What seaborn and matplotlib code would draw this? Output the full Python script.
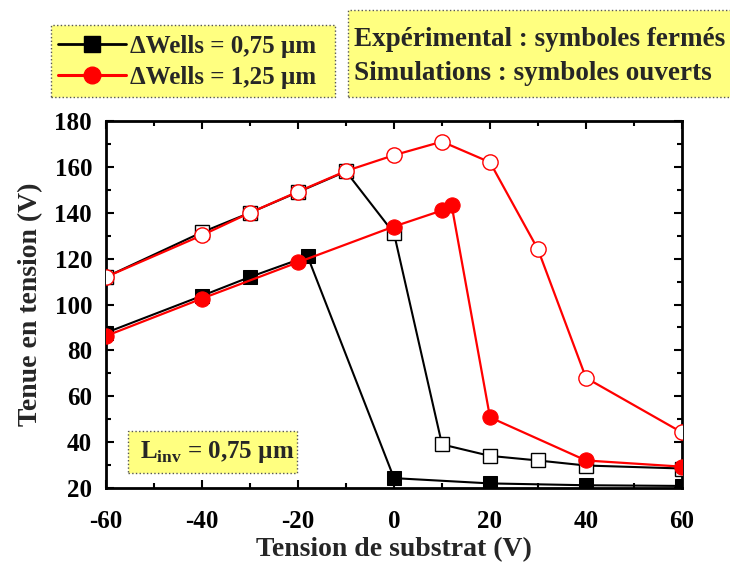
import numpy as np
import pandas as pd
import matplotlib
matplotlib.use("Agg")
import matplotlib.pyplot as plt
import seaborn as sns
from matplotlib.ticker import MultipleLocator
from matplotlib.lines import Line2D
from matplotlib.patches import Rectangle

# données
v_exp_075 = [-60, -40, -30, -18, 0, 20, 40, 60]
bv_exp_075 = [87.7, 103.8, 112, 121, 24.3, 22, 21.2, 20.9]

v_sim_075 = [-60, -40, -30, -20, -10, 0, 10, 20, 30, 40, 60]
bv_sim_075 = [112, 131.5, 140, 149, 158, 131, 39, 34, 32, 29.8, 28.5]

v_exp_125 = [-60, -40, -20, 0, 10, 12, 20, 40, 60]
bv_exp_125 = [86.3, 102.6, 118.4, 134, 141, 143.3, 50.8, 32, 29.3]

v_sim_125 = [-60, -40, -30, -20, -10, 0, 10, 20, 30, 40, 60]
bv_sim_125 = [112, 130.2, 140, 149.2, 158.2, 165.1, 171, 162, 124, 68, 44.2]

sns.set_style("ticks")
plt.rcParams["font.family"] = ["Liberation Serif", "DejaVu Serif"]
plt.rcParams["font.weight"] = "bold"
plt.rcParams["axes.labelweight"] = "bold"
plt.rcParams["axes.unicode_minus"] = False
plt.rcParams["mathtext.fontset"] = "custom"
plt.rcParams["mathtext.rm"] = "Liberation Serif:bold"
plt.rcParams["mathtext.bf"] = "Liberation Serif:bold"

W, H = 730, 563
fig = plt.figure(figsize=(W / 100, H / 100), dpi=100)
ax = fig.add_axes([106 / W, 1 - 488 / H, 576 / W, 367 / H])

jaune = "#FFFF80"

# ΔWells = 0,75 µm (noir)
sns.lineplot(x=v_exp_075, y=bv_exp_075, ax=ax, color="black", marker="s",
             markersize=9.5, markeredgecolor="black", markerfacecolor="black",
             linewidth=1.5, sort=False, zorder=3)
sns.lineplot(x=v_sim_075, y=bv_sim_075, ax=ax, color="black", marker="s",
             markersize=9.5, markeredgecolor="black", markerfacecolor="white",
             markeredgewidth=1, linewidth=1.5, sort=False, zorder=3)

# ΔWells = 1,25 µm (rouge)
sns.lineplot(x=v_exp_125, y=bv_exp_125, ax=ax, color="red", marker="o",
             markersize=11, markeredgecolor="red", markerfacecolor="red",
             linewidth=1.6, sort=False, zorder=4)
sns.lineplot(x=v_sim_125, y=bv_sim_125, ax=ax, color="red", marker="o",
             markersize=11, markeredgecolor="red", markerfacecolor="white",
             markeredgewidth=1, linewidth=1.6, sort=False, zorder=4)

ax.set_xlim(-60, 60)
ax.set_ylim(20, 180)
ax.xaxis.set_major_locator(MultipleLocator(20))
ax.xaxis.set_minor_locator(MultipleLocator(10))
ax.yaxis.set_major_locator(MultipleLocator(20))
ax.yaxis.set_minor_locator(MultipleLocator(10))
ax.tick_params(which="both", direction="in", top=True, right=True, width=1.5,
               colors="black")
ax.tick_params(which="major", length=6, labelsize=18)
ax.tick_params(axis="x", which="major", pad=16)
ax.tick_params(axis="y", which="major", pad=10)
ax.tick_params(which="minor", length=3.5)
for s in ax.spines.values():
    s.set_linewidth(2)
    s.set_color("black")
for lab in ax.get_xticklabels() + ax.get_yticklabels():
    lab.set_fontweight("bold")

ax.set_xlabel("Tension de substrat (V)", fontsize=20, fontweight="bold", labelpad=3)
ax.set_ylabel("Tenue en tension (V)", fontsize=20, fontweight="bold", labelpad=8)


def boite(x0, y0, x1, y1):
    fig.patches.append(Rectangle((x0 / W, 1 - y1 / H), (x1 - x0) / W, (y1 - y0) / H,
                                 transform=fig.transFigure, facecolor=jaune,
                                 edgecolor="#555555", linestyle=":", linewidth=1,
                                 zorder=0))


# légende
boite(51, 25, 335, 97)
handles = [
    Line2D([], [], color="black", marker="s", markersize=11, linewidth=2,
           markerfacecolor="black"),
    Line2D([], [], color="red", marker="o", markersize=12, linewidth=2.2,
           markerfacecolor="red"),
]
fig.legend(handles, ["ΔWells = 0,75 µm", "ΔWells = 1,25 µm"],
           loc="center left", bbox_to_anchor=(58 / W, 1 - 62 / H),
           prop={"weight": "bold", "size": 18}, frameon=False,
           handlelength=2.7, handletextpad=0.2, borderpad=0,
           borderaxespad=0, labelspacing=0.32)

# texte en haut à droite
boite(348, 10, 735, 97)
fig.text(354 / W, 1 - 40 / H, "Expérimental : symboles fermés", fontsize=19.5,
         fontweight="bold", ha="left", va="center")
fig.text(354 / W, 1 - 74 / H, "Simulations : symboles ouverts", fontsize=19.5,
         fontweight="bold", ha="left", va="center")

# L_inv
boite(128, 431, 297, 473)
fig.text(140 / W, 1 - 452 / H, r"L$_{\mathregular{inv}}$ = 0,75 µm", fontsize=18,
         fontweight="bold", ha="left", va="center")

fig.savefig("out.png", dpi=100)
